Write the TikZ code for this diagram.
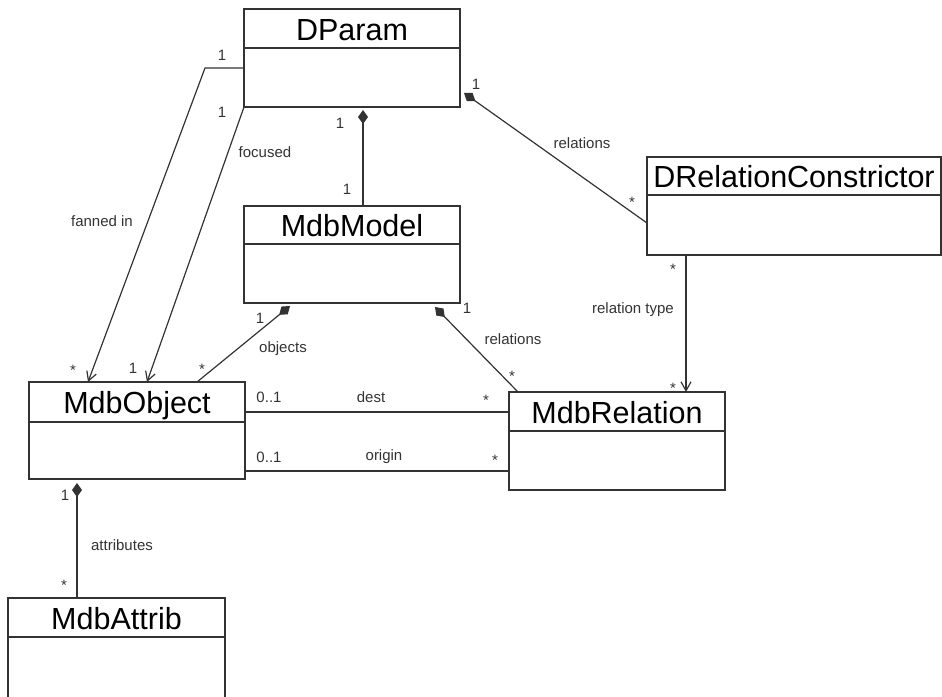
\documentclass[tikz,border=0pt]{standalone}
\usepackage{fontspec}
\setmainfont{Liberation Sans}
\usetikzlibrary{arrows.meta,calc}
\definecolor{ink}{HTML}{333333}
\begin{document}
\begin{tikzpicture}[x=1pt,y=-1pt,
  classbox/.style={draw=ink, line width=1.2pt, anchor=north west, inner sep=0pt, outer sep=0pt},
  classname/.style={font=\fontsize{30.5}{30.5}\selectfont, text=black, inner sep=0pt, anchor=base},
  lbl/.style={font=\fontsize{15}{15}\selectfont, text=ink, inner sep=0pt},
  link/.style={draw=ink, line width=1.2pt},
  comp/.style={link, {Diamond[length=14pt,width=10pt]}-},
  nav/.style={link, -{Straight Barb[length=9pt,width=10pt]}},
]
\useasboundingbox (0,0) rectangle (942,696);

% ---- classes ----
\node[classbox, minimum width=216pt, minimum height=98pt] (dparam) at (244,9) {};
\draw[link] ($(dparam.north west)+(0,39)$) -- ($(dparam.north east)+(0,39)$);
\node[classname] (dparamname) at ($(dparam.north)+(0,31)$) {DParam};

\node[classbox, minimum width=294pt, minimum height=98pt] (drc) at (647,157) {};
\draw[link] ($(drc.north west)+(0,38)$) -- ($(drc.north east)+(0,38)$);
\node[classname] (drcname) at ($(drc.north)+(0,30)$) {DRelationConstrictor};

\node[classbox, minimum width=216pt, minimum height=97pt] (mdbmodel) at (244,206) {};
\draw[link] ($(mdbmodel.north west)+(0,38)$) -- ($(mdbmodel.north east)+(0,38)$);
\node[classname] (mdbmodelname) at ($(mdbmodel.north)+(0,30)$) {MdbModel};

\node[classbox, minimum width=216pt, minimum height=97pt] (mdbobject) at (29,382) {};
\draw[link] ($(mdbobject.north west)+(0,40)$) -- ($(mdbobject.north east)+(0,40)$);
\node[classname] (mdbobjectname) at ($(mdbobject.north)+(0,31)$) {MdbObject};

\node[classbox, minimum width=216pt, minimum height=98pt] (mdbrel) at (509,392) {};
\draw[link] ($(mdbrel.north west)+(0,39)$) -- ($(mdbrel.north east)+(0,39)$);
\node[classname] (mdbrelname) at ($(mdbrel.north)+(0,31)$) {MdbRelation};

\node[classbox, minimum width=217pt, minimum height=110pt] (mdbattrib) at (8,598) {};
\draw[link] ($(mdbattrib.north west)+(0,39)$) -- ($(mdbattrib.north east)+(0,39)$);
\node[classname] (mdbattribname) at ($(mdbattrib.north)+(0,31)$) {MdbAttrib};

% ---- connector end points ----
\coordinate (fanA) at ($(dparam.north west)+(0,59)$);
\coordinate (fanB) at (205,68);
\coordinate (fanC) at ($(mdbobject.north west)+(59,0)$);
\coordinate (focC) at ($(mdbobject.north west)+(118,0)$);
\coordinate (ownA) at ($(dparam.south west)+(119,0)$);
\coordinate (ownB) at ($(mdbmodel.north west)+(119,0)$);
\coordinate (relA) at ($(dparam.south east)+(4,-14)$);
\coordinate (relB) at ($(drc.north west)+(0,66)$);
\coordinate (typA) at ($(drc.south west)+(39,0)$);
\coordinate (typB) at ($(mdbrel.north west)+(177,0)$);
\coordinate (objA) at ($(mdbmodel.south west)+(46,3)$);
\coordinate (objB) at ($(mdbobject.north west)+(168,0)$);
\coordinate (mrA) at ($(mdbmodel.south west)+(191,4)$);
\coordinate (mrB) at ($(mdbrel.north west)+(9,0)$);
\coordinate (destA) at ($(mdbobject.north east)+(0,30)$);
\coordinate (destB) at ($(mdbrel.north west)+(0,20)$);
\coordinate (origA) at ($(mdbobject.north east)+(0,89)$);
\coordinate (origB) at ($(mdbrel.north west)+(0,79)$);
\coordinate (attA) at ($(mdbobject.south west)+(48,0)$);
\coordinate (attB) at ($(mdbattrib.north west)+(69,0)$);

% ---- connectors ----
\draw[nav] (fanA) -- (fanB) -- (fanC);
\draw[nav] (dparam.south west) -- (focC);
\draw[comp, shorten <=3pt] (ownA) -- (ownB);
\draw[comp] (relA) -- (relB);
\draw[nav] (typA) -- (typB);
\draw[comp] (objA) -- (objB);
\draw[comp] (mrA) -- (mrB);
\draw[link] (destA) -- (destB);
\draw[link] (origA) -- (origB);
\draw[comp, shorten <=4pt] (attA) -- (attB);

% ---- labels ----
\node[lbl] (l1) at (222,55) {1};
\node[lbl] (l2) at (222,112) {1};
\node[lbl] (l3) at (102,221) {fanned in};
\node[lbl] (l4) at (265,152) {focused};
\node[lbl] (l5) at (73,370) {*};
\node[lbl] (l6) at (133,368) {1};
\node[lbl] (l7) at (202,369) {*};
\node[lbl] (l8) at (340,123) {1};
\node[lbl] (l9) at (347,189) {1};
\node[lbl] (l10) at (476,84) {1};
\node[lbl] (l11) at (582,143) {relations};
\node[lbl] (l12) at (632,202) {*};
\node[lbl] (l13) at (673,269) {*};
\node[lbl] (l14) at (633,310) {relation type};
\node[lbl] (l15) at (673,388) {*};
\node[lbl] (l16) at (260,318) {1};
\node[lbl] (l17) at (283,349) {objects};
\node[lbl] (l18) at (467,308) {1};
\node[lbl] (l19) at (513,339) {relations};
\node[lbl] (l20) at (512,376) {*};
\node[lbl] (l21) at (269,397) {0..1};
\node[lbl] (l22) at (371,397) {dest};
\node[lbl] (l23) at (486,400) {*};
\node[lbl] (l24) at (269,457) {0..1};
\node[lbl] (l25) at (384,457) {origin};
\node[lbl] (l26) at (495,460) {*};
\node[lbl] (l27) at (65,495) {1};
\node[lbl] (l28) at (122,545) {attributes};
\node[lbl] (l29) at (64,585) {*};
\end{tikzpicture}
\end{document}
